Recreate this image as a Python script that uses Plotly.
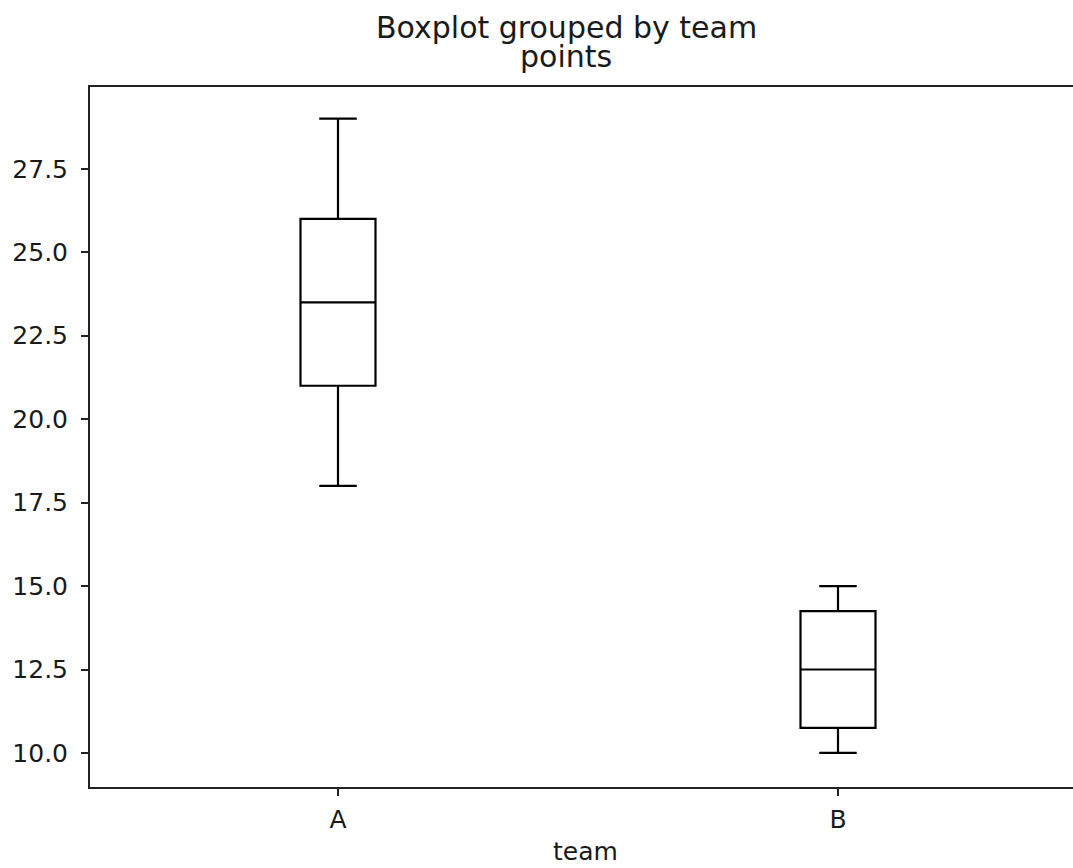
import plotly.graph_objects as go

teams = ["A", "B"]
lower_whisker = [18.0, 10.0]
q1_vals = [21.0, 10.75]
medians = [23.5, 12.5]
q3_vals = [26.0, 14.25]
upper_whisker = [29.0, 15.0]
y_ticks = [10.0, 12.5, 15.0, 17.5, 20.0, 22.5, 25.0, 27.5]

W, H = 1073, 868
L, R, T, B = 90, 0, 87, 81
FONT = "DejaVu Sans"
TXT = "#1a1a1a"

fig = go.Figure()
fig.add_trace(go.Box(
    x=teams, q1=q1_vals, median=medians, q3=q3_vals,
    lowerfence=lower_whisker, upperfence=upper_whisker,
    width=0.15, whiskerwidth=0.5,
    line=dict(color="black", width=2.2), fillcolor="rgba(0,0,0,0)",
    boxpoints=False, hoverinfo="skip", showlegend=False,
))

ph = H - T - B

def py(pix):
    return 1 + (T - pix) / ph

fig.update_layout(
    width=W, height=H,
    margin=dict(l=L, r=R, t=T, b=B, pad=0),
    plot_bgcolor="white", paper_bgcolor="white",
    font=dict(family=FONT, size=25, color=TXT),
    xaxis=dict(
        type="category", range=[-0.496, 1.47],
        showline=True, linecolor="#222", linewidth=2, mirror=True,
        ticks="outside", ticklen=7, tickwidth=2, tickcolor="#222",
        showgrid=False, zeroline=False, ticklabelstandoff=2,
        tickfont=dict(family=FONT, size=25, color=TXT),
    ),
    yaxis=dict(
        range=[8.98, 29.95], tickvals=y_ticks, tickformat=".1f",
        showline=True, linecolor="#222", linewidth=2, mirror=False,
        ticks="outside", ticklen=7, tickwidth=2, tickcolor="#222",
        showgrid=False, zeroline=False, ticklabelstandoff=8,
        tickfont=dict(family=FONT, size=25, color=TXT),
    ),
    annotations=[
        dict(text="Boxplot grouped by team", xref="paper", yref="paper",
             x=(566 - L) / (W - L - R), y=py(27), xanchor="center", yanchor="middle",
             showarrow=False, font=dict(family=FONT, size=30, color=TXT)),
        dict(text="points", xref="paper", yref="paper",
             x=(566 - L) / (W - L - R), y=py(57), xanchor="center", yanchor="middle",
             showarrow=False, font=dict(family=FONT, size=30, color=TXT)),
        dict(text="team", xref="paper", yref="paper",
             x=(585 - L) / (W - L - R), y=py(852), xanchor="center", yanchor="middle",
             showarrow=False, font=dict(family=FONT, size=25, color=TXT)),
    ],
)

fig.write_html(
    "out.html",
    config={"displayModeBar": False, "staticPlot": True},
    post_script="document.body.style.margin='0';document.body.style.overflow='hidden';",
)
